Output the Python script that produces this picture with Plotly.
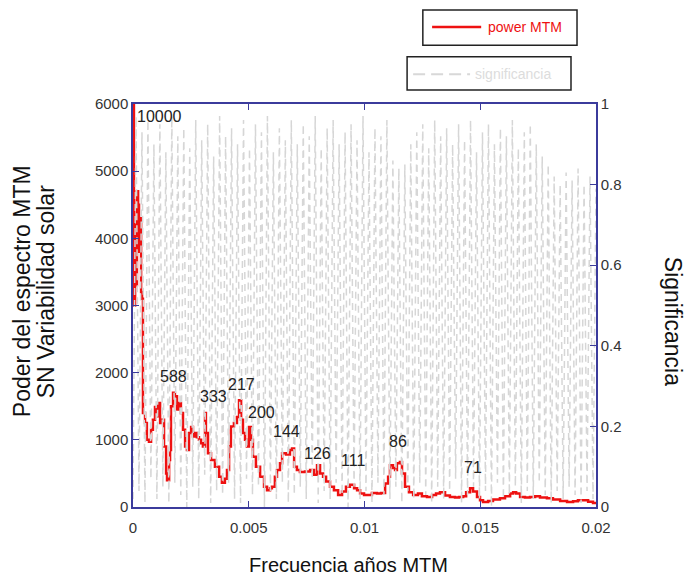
import numpy as np
import plotly.graph_objects as go

# power MTM spectrum (frequency in 1/years, power)
power_freq = [0, 0.00004, 0.00009, 0.00013, 0.00017, 0.00022, 0.00026, 0.00030, 0.00035, 0.00039,
              0.00043, 0.00052, 0.00060, 0.00069, 0.00078, 0.00086, 0.00095, 0.00104, 0.00108, 0.00117,
              0.00125, 0.00134, 0.00143, 0.00147, 0.00156, 0.00160, 0.00164, 0.00173, 0.00181, 0.00190,
              0.00199, 0.00207, 0.00216, 0.00225, 0.00233, 0.00242, 0.00251, 0.00259, 0.00268, 0.00276,
              0.00285, 0.00294, 0.00302, 0.00311, 0.00315, 0.00324, 0.00337, 0.00354, 0.00372, 0.00384,
              0.00397, 0.00406, 0.00415, 0.00423, 0.00436, 0.00449, 0.00458, 0.00467, 0.00475, 0.00484,
              0.00492, 0.00501, 0.00510, 0.00518, 0.00531, 0.00549, 0.00566, 0.00579, 0.00592, 0.00600,
              0.00613, 0.00622, 0.00635, 0.00644, 0.00661, 0.00678, 0.00687, 0.00696, 0.00708, 0.00721,
              0.00743, 0.00765, 0.00782, 0.00795, 0.00808, 0.00821, 0.00834, 0.00851, 0.00868, 0.00886,
              0.00903, 0.00920, 0.00937, 0.00955, 0.00968, 0.00981, 0.00998, 0.01011, 0.01032, 0.01054,
              0.01071, 0.01089, 0.01102, 0.01110, 0.01123, 0.01132, 0.01140, 0.01153, 0.01162, 0.01175,
              0.01192, 0.01210, 0.01231, 0.01248, 0.01270, 0.01292, 0.01309, 0.01326, 0.01348, 0.01369,
              0.01391, 0.01408, 0.01426, 0.01439, 0.01456, 0.01469, 0.01486, 0.01499, 0.01512, 0.01534,
              0.01555, 0.01585, 0.01607, 0.01629, 0.01642, 0.01655, 0.01672, 0.01693, 0.01715, 0.01737,
              0.01758, 0.01788, 0.01814, 0.01845, 0.01875, 0.01901, 0.01922, 0.01944, 0.01966, 0.01987,
              0.02000]
power_vals = [6000, 3000, 4200, 3300, 4700, 4500, 3800, 4300, 3200, 3100,
              1400, 1250, 1000, 970, 1150, 1300, 1490, 1350, 1550, 1250,
              1300, 900, 500, 400, 700, 850, 1500, 1700, 1650, 1450,
              1550, 1400, 1150, 900, 850, 1100, 1190, 1050, 1100, 1040,
              1000, 950, 900, 1400, 1100, 800, 700, 600, 450, 360,
              420, 550, 900, 1200, 1250, 1340, 1590, 1300, 1100, 1000,
              900, 1190, 1000, 750, 600, 450, 300, 250, 280, 300,
              450, 550, 650, 800, 780, 850, 870, 600, 550, 520,
              530, 550, 480, 620, 500, 450, 380, 300, 250, 180,
              230, 300, 330, 280, 250, 200, 180, 180, 210, 200,
              210, 350, 450, 620, 580, 550, 650, 670, 500, 300,
              220, 180, 200, 160, 150, 180, 200, 220, 170, 150,
              140, 150, 160, 220, 280, 230, 150, 100, 75, 90,
              110, 130, 160, 200, 220, 200, 150, 140, 150, 160,
              140, 130, 110, 90, 75, 85, 100, 100, 80, 60,
              40]

# significance (right axis), hand-read oscillation
sig_vals = [0.02, 0.97, 0.04, 0.93, 0.01, 0.96, 0.07, 0.90, 0.02, 0.95, 0.05, 0.88, 0.01, 0.97, 0.06,
            0.92, 0.03, 0.94, 0.00, 0.89, 0.05, 0.96, 0.02, 0.91, 0.08, 0.95, 0.01, 0.87, 0.04, 0.97,
            0.03, 0.92, 0.06, 0.94, 0.02, 0.90, 0.01, 0.96, 0.07, 0.89, 0.03, 0.95, 0.05, 0.93, 0.00,
            0.97, 0.04, 0.88, 0.02, 0.94, 0.06, 0.91, 0.01, 0.96, 0.03, 0.90, 0.05, 0.95, 0.02, 0.92,
            0.07, 0.97, 0.01, 0.89, 0.04, 0.94, 0.02, 0.96, 0.06, 0.90, 0.03, 0.93, 0.00, 0.95, 0.05,
            0.91, 0.02, 0.97, 0.04, 0.88, 0.01, 0.94, 0.06, 0.92, 0.03, 0.96, 0.02, 0.86, 0.05, 0.84,
            0.01, 0.85, 0.04, 0.90, 0.02, 0.93, 0.06, 0.95, 0.03, 0.89, 0.01, 0.96, 0.05, 0.92, 0.02,
            0.94, 0.04, 0.90, 0.07, 0.95, 0.01, 0.91, 0.03, 0.96, 0.05, 0.88, 0.02, 0.93, 0.04, 0.95,
            0.00, 0.90, 0.06, 0.94, 0.02, 0.92, 0.03, 0.96, 0.05, 0.89, 0.01, 0.93, 0.04, 0.95, 0.02,
            0.90, 0.06, 0.87, 0.03, 0.85, 0.01, 0.82, 0.04, 0.80, 0.02, 0.83, 0.05, 0.81, 0.03, 0.84,
            0.01, 0.80, 0.04, 0.82, 0.02, 0.79]
sig_freq = np.linspace(0, 0.02, len(sig_vals))

# period labels (years)
label_text = ["588", "333", "217", "200", "144", "126", "111", "86", "71"]
label_freq = [0.00173, 0.00346, 0.00467, 0.00553, 0.00661, 0.00795, 0.00950, 0.01145, 0.01469]
label_pow = [1936, 1638, 1831, 1400, 1117, 804, 685, 968, 581]

AXC = "#3b3b9c"
FONT = "Liberation Sans, Arial, sans-serif"

fig = go.Figure()
fig.add_trace(go.Scatter(x=sig_freq, y=sig_vals, yaxis="y2", mode="lines",
                         line=dict(color="#d6d6d6", width=1.5, dash="7px,5px"),
                         showlegend=False, hoverinfo="skip"))
fig.add_trace(go.Scatter(x=power_freq, y=power_vals, mode="lines",
                         line=dict(color="#ee1111", width=2.5, shape="hv"),
                         showlegend=False))

for t, fx, py in zip(label_text, label_freq, label_pow):
    fig.add_annotation(x=fx, y=py, text=t, showarrow=False,
                       font=dict(size=16, color="#222", family=FONT))
fig.add_annotation(x=0.0001, y=5818, text="10000", showarrow=False, xanchor="left",
                   font=dict(size=16, color="#222", family=FONT))

# legend boxes
fig.add_shape(type="rect", xref="paper", yref="paper", x0=0.626, x1=0.959, y0=1.146, y1=1.233,
              line=dict(color="#222", width=1.5), fillcolor="white")
fig.add_shape(type="line", xref="paper", yref="paper", x0=0.646, x1=0.752, y0=1.191, y1=1.191,
              line=dict(color="#ee1111", width=2.5))
fig.add_annotation(xref="paper", yref="paper", x=0.762, y=1.191, text="power MTM", showarrow=False,
                   xanchor="left", yanchor="middle", font=dict(size=14, color="#ee1111", family=FONT))
fig.add_shape(type="rect", xref="paper", yref="paper", x0=0.592, x1=0.946, y0=1.035, y1=1.117,
              line=dict(color="#222", width=1.5), fillcolor="white")
fig.add_shape(type="line", xref="paper", yref="paper", x0=0.605, x1=0.728, y0=1.074, y1=1.074,
              line=dict(color="#d8d8d8", width=2, dash="12px,6px"))
fig.add_annotation(xref="paper", yref="paper", x=0.735, y=1.074, text="significancia", showarrow=False,
                   xanchor="left", yanchor="middle", font=dict(size=14, color="#dcdcdc", family=FONT))

# axis titles
fig.add_annotation(xref="paper", yref="paper", x=1.168, y=0.46, text="Significancia", showarrow=False,
                   xanchor="center", yanchor="middle",
                   textangle=90, font=dict(size=23, color="#111", family=FONT))
fig.add_annotation(xref="paper", yref="paper", x=-0.238, y=0.535, text="Poder del espectro MTM",
                   showarrow=False, xanchor="center", yanchor="middle",
                   textangle=-90, font=dict(size=23, color="#111", family=FONT))
fig.add_annotation(xref="paper", yref="paper", x=-0.186, y=0.535, text="SN Variabilidad solar",
                   showarrow=False, xanchor="center", yanchor="middle",
                   textangle=-90, font=dict(size=23, color="#111", family=FONT))
fig.add_annotation(xref="paper", yref="paper", x=0.466, y=-0.144, text="Frecuencia años MTM",
                   showarrow=False, xanchor="center", yanchor="middle",
                   font=dict(size=20, color="#111", family=FONT))

fig.update_layout(
    width=690, height=578,
    margin=dict(l=133, r=94, t=104, b=71),
    paper_bgcolor="white", plot_bgcolor="white",
    font=dict(family=FONT, color="#333"),
    xaxis=dict(range=[0, 0.02], tickvals=[0, 0.005, 0.01, 0.015, 0.02],
               ticktext=["0", "0.005", "0.01", "0.015", "0.02"],
               showgrid=False, zeroline=False, showline=True, linecolor=AXC, linewidth=1.5,
               mirror="ticks", ticks="inside", tickcolor=AXC, ticklen=6, ticklabelstandoff=6,
               tickfont=dict(size=15, color="#333")),
    yaxis=dict(range=[0, 6000], tickvals=[0, 1000, 2000, 3000, 4000, 5000, 6000],
               showgrid=False, zeroline=False, showline=True, linecolor=AXC, linewidth=1.5,
               ticks="inside", tickcolor=AXC, ticklen=6,
               tickfont=dict(size=15, color="#333")),
    yaxis2=dict(range=[0, 1], overlaying="y", side="right",
                tickvals=[0, 0.2, 0.4, 0.6, 0.8, 1], ticktext=["0", "0.2", "0.4", "0.6", "0.8", "1"],
                showgrid=False, zeroline=False, showline=True, linecolor=AXC, linewidth=1.5,
                ticks="inside", tickcolor=AXC, ticklen=6,
                tickfont=dict(size=15, color="#333")),
)

fig.write_html("out.html")
